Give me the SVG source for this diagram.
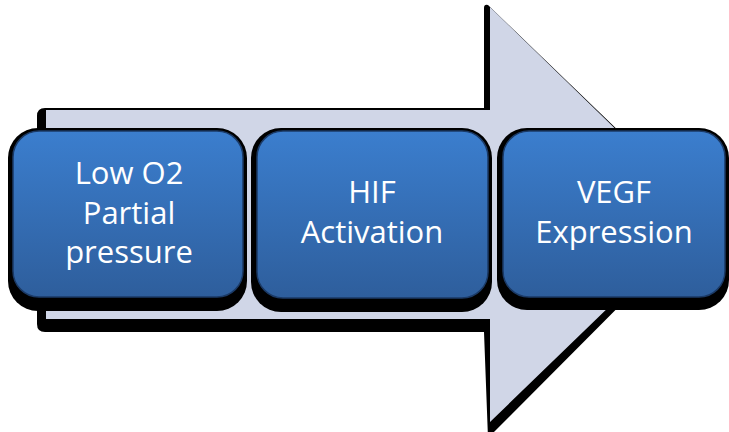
<svg xmlns="http://www.w3.org/2000/svg" width="729" height="432" viewBox="0 0 729 432">
<defs>
<linearGradient id="bg" x1="0" y1="0" x2="0" y2="1">
<stop offset="0" stop-color="#3B7ECE"/>
<stop offset="1" stop-color="#2E5E9C"/>
</linearGradient>
<style>
.sh{fill:#000}
.box{fill:url(#bg);stroke:#1B3A66;stroke-width:1.5}
.t{font-family:"Open Sans","Noto Sans",sans-serif;font-size:31px;fill:#FFFFFF;text-anchor:middle}
</style>
</defs>
<rect width="729" height="432" fill="#FFFFFF"/>
<g id="arrow">
<path class="sh" d="M37,116 Q37,108 45,108 L484,108 L484,8 Q484,4 488,5 L708,217 L488,438 L484,332 L45,332 Q37,332 37,324 Z"/>
<polygon fill="#D0D6E7" points="46,110 490,110 490,7 704,215 490,422 490,319 46,319"/>
</g>
<g id="connectors"></g>
<g id="node1">
<rect class="sh" x="8" y="128" width="239" height="183" rx="30"/>
<rect class="box" x="13" y="131" width="230" height="166" rx="26"/>
<text class="t" x="129" y="184">Low O2</text>
<text class="t" x="129" y="224">Partial</text>
<text class="t" x="129" y="263">pressure</text>
</g>
<g id="node2">
<rect class="sh" x="251" y="128" width="241" height="184" rx="30"/>
<rect class="box" x="257" y="131" width="231" height="167" rx="26"/>
<text class="t" x="372" y="203">HIF</text>
<text class="t" x="372" y="243">Activation</text>
</g>
<g id="node3">
<rect class="sh" x="497" y="128" width="232" height="182" rx="30"/>
<rect class="box" x="503" y="131" width="222" height="166" rx="26"/>
<text class="t" x="614" y="203">VEGF</text>
<text class="t" x="614" y="243">Expression</text>
</g>
</svg>
